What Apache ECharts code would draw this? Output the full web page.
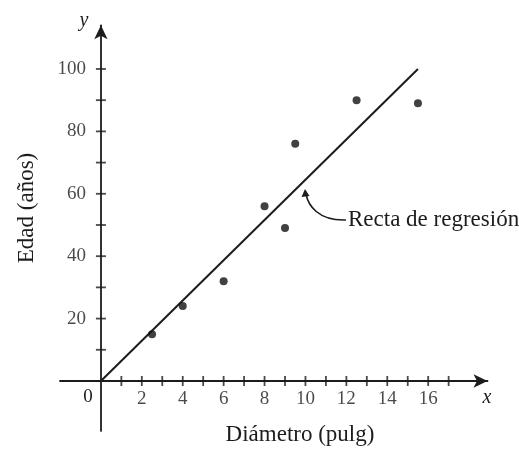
<!DOCTYPE html>
<html>
<head>
<meta charset="utf-8">
<script src="https://cdn.jsdelivr.net/npm/echarts@6/dist/echarts.min.js"></script>
<style>
html,body{margin:0;padding:0;background:#fff;}
#chart{width:519px;height:449px;}
</style>
</head>
<body>
<div id="chart"></div>
<script>
// Data
const diameters = [2.5, 4, 6, 8, 9, 9.5, 12.5, 15.5];
const ages = [15, 24, 32, 56, 49, 76, 90, 89];
const regressionX = [0, 15.5];
const regressionY = [0, 100];

// Ticks and labels
const xTickValues = [1,2,3,4,5,6,7,8,9,10,11,12,13,14,15,16,17];
const yTickValues = [10,20,30,40,50,60,70,80,90,100];
const xLabelValues = [2,4,6,8,10,12,14,16];
const yLabelValues = [20,40,60,80,100];

const xTitle = 'Diámetro (pulg)';
const yTitle = 'Edad (años)';
const annotationText = 'Recta de regresión';

const INK = '#1c1c1c';
const FONT = '"Liberation Serif", "Times New Roman", serif';

const chart = echarts.init(document.getElementById('chart'));
chart.setOption({
  animation: false,
  backgroundColor: '#ffffff',
  grid: { left: 60, right: 31.5, top: 25.3, bottom: 18.1, containLabel: false },
  xAxis: {
    type: 'value', min: -2, max: 18.9, interval: 1,
    axisLine: { show: true, onZero: true, symbol: ['none', 'arrow'], symbolSize: [10, 14],
      lineStyle: { color: INK, width: 1.8 } },
    axisTick: { show: false },
    splitLine: { show: false },
    axisLabel: { show: false }
  },
  yAxis: {
    type: 'value', min: -16, max: 114, interval: 2,
    axisLine: { show: true, onZero: true, symbol: ['none', 'arrow'], symbolSize: [10, 14],
      lineStyle: { color: INK, width: 1.8 } },
    axisTick: { show: false },
    splitLine: { show: false },
    axisLabel: { show: false }
  },
  series: [
    {
      name: 'xTicks', type: 'scatter', silent: true, symbol: 'rect', symbolSize: [1.8, 10],
      itemStyle: { color: INK }, data: xTickValues.map(v => [v, 0]), z: 3
    },
    {
      name: 'yTicks', type: 'scatter', silent: true, symbol: 'rect', symbolSize: [10, 1.8],
      itemStyle: { color: INK }, data: yTickValues.map(v => [0, v]), z: 3
    },
    {
      name: 'xLabels', type: 'scatter', silent: true, symbol: 'circle', symbolSize: 2,
      itemStyle: { color: 'rgba(0,0,0,0)' },
      data: xLabelValues.map(v => [v, 0]), z: 2,
      label: { show: true, position: 'bottom', distance: 8, color: INK, fontFamily: FONT, fontSize: 19,
        formatter: p => String(p.value[0]) }
    },
    {
      name: 'yLabels', type: 'scatter', silent: true, symbol: 'circle', symbolSize: 2,
      itemStyle: { color: 'rgba(0,0,0,0)' },
      data: yLabelValues.map(v => [0, v]), z: 2,
      label: { show: true, position: 'left', distance: 14, color: INK, fontFamily: FONT, fontSize: 19,
        formatter: p => String(p.value[1]) }
    },
    {
      name: 'Recta de regresión', type: 'line', silent: true, symbol: 'none',
      lineStyle: { color: INK, width: 2 },
      data: regressionX.map((x, i) => [x, regressionY[i]]), z: 4
    },
    {
      name: 'Árboles', type: 'scatter', symbol: 'circle', symbolSize: 8,
      itemStyle: { color: '#111' },
      data: diameters.map((d, i) => [d, ages[i]]), z: 5
    }
  ],
  graphic: [
    { type: 'text', x: 88, y: 397, style: { text: '0', font: '19px ' + FONT, fill: INK, textAlign: 'center', textVerticalAlign: 'middle' } },
    { type: 'text', x: 487, y: 398, style: { text: 'x', font: 'italic 20px ' + FONT, fill: INK, textAlign: 'center', textVerticalAlign: 'middle' } },
    { type: 'text', x: 84, y: 21, style: { text: 'y', font: 'italic 20px ' + FONT, fill: INK, textAlign: 'center', textVerticalAlign: 'middle' } },
    { type: 'text', x: 300, y: 435, style: { text: xTitle, font: '23px ' + FONT, fill: INK, textAlign: 'center', textVerticalAlign: 'middle' } },
    { type: 'text', x: 27, y: 208, rotation: Math.PI / 2, style: { text: yTitle, font: '23px ' + FONT, fill: INK, textAlign: 'center', textVerticalAlign: 'middle' } },
    { type: 'text', x: 348, y: 220, style: { text: annotationText, font: '23px ' + FONT, fill: INK, textAlign: 'left', textVerticalAlign: 'middle' } },
    { type: 'bezierCurve', shape: { x1: 346, y1: 220, x2: 306, y2: 194, cpx1: 318, cpy1: 221, cpx2: 308, cpy2: 205 },
      style: { stroke: INK, lineWidth: 1.6, fill: 'none' } },
    { type: 'polygon', shape: { points: [[305, 189], [301.5, 197], [309.5, 196]] }, style: { fill: INK } }
  ]
});
</script>
</body>
</html>
